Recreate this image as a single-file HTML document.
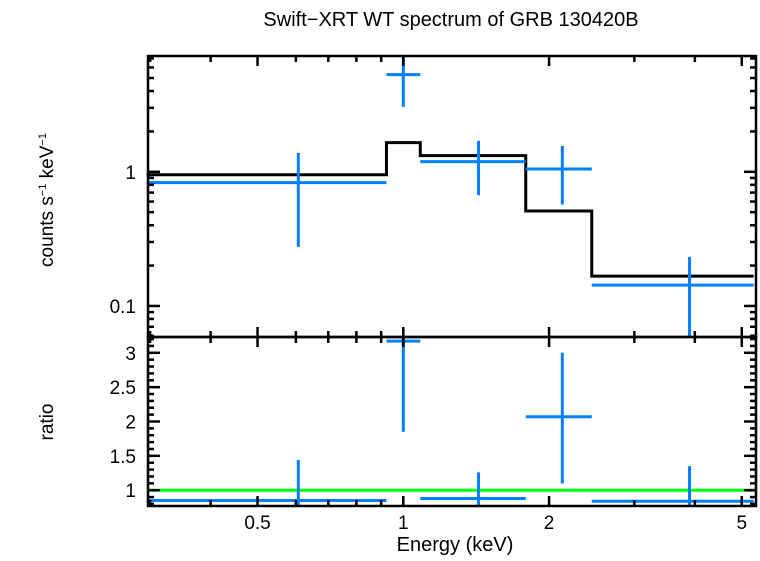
<!DOCTYPE html>
<html><head><meta charset="utf-8"><style>
body{margin:0;background:#fff;}
svg text{font-family:"Liberation Sans",sans-serif;fill:#000;}
</style></head><body>
<svg id="c" width="760" height="556" viewBox="0 0 760 556">
<text x="451" y="26" font-size="20" text-anchor="middle">Swift−XRT WT spectrum of GRB 130420B</text>
<text transform="translate(53,200) rotate(-90)" font-size="19" text-anchor="middle">counts s<tspan font-size="11" dy="-7">−1</tspan><tspan dy="7"> keV</tspan><tspan font-size="11" dy="-7">−1</tspan></text>
<text transform="translate(53,422) rotate(-90)" font-size="19" text-anchor="middle">ratio</text>
<text x="455" y="551" font-size="20" text-anchor="middle">Energy (keV)</text>
<g id="g"></g>
</svg>
<script>
const binLo=[0.295,0.923,1.084,1.79,2.45];
const binHi=[0.923,1.084,1.79,2.45,5.29];
const binCenter=[0.607,1.0,1.43,2.13,3.9];
const rateVal=[0.83,5.3,1.19,1.05,0.143];
const rateErrLo=[0.276,3.05,0.67,0.57,0.03];
const rateErrHi=[1.38,9,1.70,1.56,0.232];
const modelVal=[0.95,1.65,1.32,0.51,0.167];
const ratioVal=[0.85,3.17,0.88,2.07,0.84];
const ratioErrLo=[0.5,1.85,0.5,1.1,0.5];
const ratioErrHi=[1.44,4,1.26,3.0,1.35];
const xTickLabels=["0.5","1","2","5"];
const xTickVals=[0.5,1,2,5];
const topTickLabels=["0.1","1"];
const topTickVals=[0.1,1];
const ratioTickLabels=["1","1.5","2","2.5","3"];
const ratioTickVals=[1,1.5,2,2.5,3];

const L=148,R=756,T1=56,B1=337,B2=506;
const xmin=0.297,xmax=5.35;
const X=e=>L+(Math.log10(e)-Math.log10(xmin))/(Math.log10(xmax)-Math.log10(xmin))*(R-L);
const ymin=0.0587,ymax=7.3;
const Y1=v=>B1-(Math.log10(v)-Math.log10(ymin))/(Math.log10(ymax)-Math.log10(ymin))*(B1-T1);
const rmin=0.77,rmax=3.23;
const Y2=v=>B2-(v-rmin)/(rmax-rmin)*(B2-B1);
const cl=(v,a,b)=>Math.max(a,Math.min(b,v));
const g=document.getElementById('g');
const NS='http://www.w3.org/2000/svg';
function el(t,a){const e=document.createElementNS(NS,t);for(const k in a)e.setAttribute(k,a[k]);g.appendChild(e);return e;}
function line(x1,y1,x2,y2,c,w){return el('line',{x1,y1,x2,y2,stroke:c,'stroke-width':w});}

let d='';
for(let i=0;i<binLo.length;i++){const y=Y1(modelVal[i]);d+=(i?'L':'M')+X(binLo[i])+','+y+'L'+X(binHi[i])+','+y;}
const m=el('path',{d,fill:'none',stroke:'#000','stroke-width':3});


const gl=line(L,Y2(1),R,Y2(1),'#00ff00',3);



for(let i=0;i<binLo.length;i++){
  const cx=X(binCenter[i]);
  const h=line(X(binLo[i]),Y1(rateVal[i]),cl(X(binHi[i]),L,R),Y1(rateVal[i]),'#0080ff',3);
  
  
  const v=line(cx,cl(Y1(rateErrLo[i]),T1,B1),cx,cl(Y1(rateErrHi[i]),T1,B1),'#0080ff',3);
  
  
  const rh=line(X(binLo[i]),cl(Y2(ratioVal[i]),B1,B2),cl(X(binHi[i]),L,R),cl(Y2(ratioVal[i]),B1,B2),'#0080ff',3);
  
  
  const rv=line(cx,cl(Y2(ratioErrLo[i]),B1,B2),cx,cl(Y2(ratioErrHi[i]),B1,B2),'#0080ff',3);
  
  
}

for(const [t,b] of [[T1,B1],[B1,B2]]){
  const f=el('rect',{x:L,y:t,width:R-L,height:b-t,fill:'none',stroke:'#000','stroke-width':2.5});
  
  
}
const xt=[0.3,0.4,0.5,0.6,0.7,0.8,0.9,1,2,3,4,5];
for(const v of xt){const x=X(v);if(x<L||x>R)continue;const big=v===1||v===0.5||v===2||v===5;const len=big?10:6;
  for(const [t,b] of [[T1,B1],[B1,B2]]){line(x,t,x,t+len,'#000',2.5);line(x,b,x,b-len,'#000',2.5);}}
xTickVals.forEach((v,i)=>{const t=el('text',{x:X(v),y:529,'font-size':19,'text-anchor':'middle'});t.textContent=xTickLabels[i];
  });
for(const dec of [0.01,0.1,1]){for(let k=1;k<10;k++){const v=dec*k;const y=Y1(v);if(y<T1||y>B1)continue;const len=k===1?12:6;
  line(L,y,L+len,y,'#000',2.5);line(R,y,R-len,y,'#000',2.5);}}
topTickVals.forEach((v,i)=>{const t=el('text',{x:136,y:Y1(v)+7,'font-size':19,'text-anchor':'end'});t.textContent=topTickLabels[i];
  });
for(let k=8;k<=32;k++){const v=k/10;const y=Y2(v);if(y<B1||y>B2)continue;const len=(k%5===0)?12:6;
  line(L,y,L+len,y,'#000',2.5);line(R,y,R-len,y,'#000',2.5);}
ratioTickVals.forEach((v,i)=>{const t=el('text',{x:136,y:Y2(v)+7,'font-size':19,'text-anchor':'end'});t.textContent=ratioTickLabels[i];
  });
</script>
</body></html>
